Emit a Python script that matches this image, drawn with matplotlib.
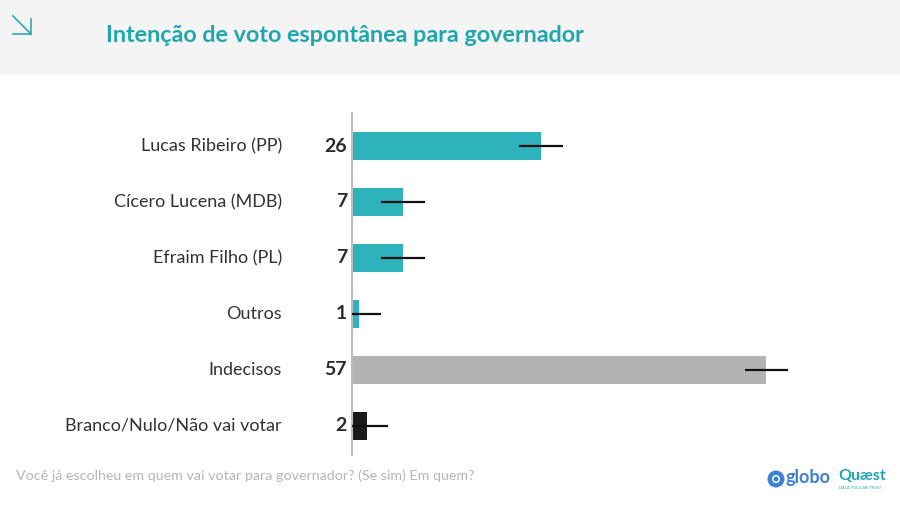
import matplotlib.pyplot as plt
from matplotlib.patches import Rectangle, Ellipse

categories = ["Lucas Ribeiro (PP)", "Cícero Lucena (MDB)", "Efraim Filho (PL)",
              "Outros", "Indecisos", "Branco/Nulo/Não vai votar"]
values = [26, 7, 7, 1, 57, 2]
margin = [3, 3, 3, 3, 3, 3]
colors = ["#2eb3bc", "#2eb3bc", "#2eb3bc", "#2eb3bc", "#b3b3b3", "#1b1b1b"]

title = "Intenção de voto espontânea para governador"
question = "Você já escolheu em quem vai votar para governador? (Se sim) Em quem?"

W, H = 900, 508
fig = plt.figure(figsize=(W / 100, H / 100), dpi=100)
fig.patch.set_facecolor("white")

# header band
fig.patches.append(Rectangle((0, 1 - 74 / H), 1, 74 / H, transform=fig.transFigure,
                             facecolor="#f4f4f4", edgecolor="none", zorder=0))
arrow_kw = dict(color="#2aaab3", lw=1.2, transform=fig.transFigure)
fig.lines.append(plt.Line2D([13 / W, 31 / W], [1 - 16 / H, 1 - 34 / H], **arrow_kw))
fig.lines.append(plt.Line2D([13 / W, 31 / W], [1 - 34 / H, 1 - 34 / H], **arrow_kw))
fig.lines.append(plt.Line2D([31 / W, 31 / W], [1 - 19 / H, 1 - 34 / H], **arrow_kw))
fig.text(106 / W, 1 - 36 / H, title, color="#1fa6ae", fontsize=16.8, fontweight="bold",
         family="Lato", va="center", ha="left")

# axes: x from 352 px, 7.27 px per unit
x0, y_top, y_bot = 352, 113, 455
xmax = 70
ax = fig.add_axes([x0 / W, 1 - y_bot / H, xmax * 7.27 / W, (y_bot - y_top) / H])
ypos = list(range(len(categories)))
ax.barh(ypos, values, height=0.5, color=colors, zorder=2)
lo = [min(m, v) for v, m in zip(values, margin)]
ax.errorbar(values, ypos, xerr=[lo, margin], fmt="none", ecolor="#111111",
            elinewidth=1.6, capsize=0, zorder=3, clip_on=False)
ax.set_xlim(0, xmax)
ax.set_ylim(5.52, -0.59)
for s in ["top", "right", "bottom"]:
    ax.spines[s].set_visible(False)
ax.spines["left"].set_color("#bdbdbd")
ax.spines["left"].set_linewidth(1.5)
ax.set_xticks([])
ax.set_yticks([])

for y, cat, v in zip(ypos, categories, values):
    ax.annotate(cat, (0, y), xytext=(-70, 0), textcoords="offset pixels",
                ha="right", va="center", fontsize=13, color="#333333", family="Lato")
    ax.annotate(str(v), (0, y), xytext=(-5, 0), textcoords="offset pixels",
                ha="right", va="center", fontsize=14, fontweight="bold", color="#2b2b2b",
                family="Lato")

fig.text(16 / W, 1 - 476 / H, question, color="#b5b5b5", fontsize=10.3, family="Lato",
         va="center", ha="left")

# logos as text
fig.patches.append(Ellipse((776 / W, 1 - 479 / H), 17 / W, 17 / H, transform=fig.transFigure,
                           facecolor="#3b82d0", edgecolor="none"))
fig.patches.append(Ellipse((776 / W, 1 - 479 / H), 8 / W, 8 / H, transform=fig.transFigure,
                           facecolor="white", edgecolor="none"))
fig.patches.append(Ellipse((776 / W, 1 - 479 / H), 5 / W, 5 / H, transform=fig.transFigure,
                           facecolor="#3b82d0", edgecolor="none"))
fig.text(785 / W, 1 - 478 / H, "globo", color="#3b7fcf", fontsize=13, fontweight="bold",
         family="Lato", va="center", ha="left")
fig.text(838 / W, 1 - 476 / H, "Quæst", color="#1fa6ae", fontsize=11.5, fontweight="bold",
         family="Lato", va="center", ha="left")
fig.text(839 / W, 1 - 488 / H, "DATA YOU CAN TRUST", color="#1fa6ae", fontsize=2.8,
         family="Lato", va="center", ha="left")

fig.savefig("out.png", dpi=100)
